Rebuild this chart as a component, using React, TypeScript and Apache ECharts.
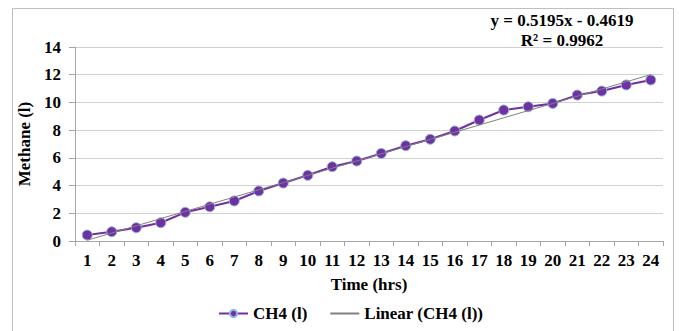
import React, { useEffect, useRef } from "react";
import * as echarts from "echarts";

const hours = ["1","2","3","4","5","6","7","8","9","10","11","12","13","14","15","16","17","18","19","20","21","22","23","24"];
const ch4 = [0.43, 0.67, 0.96, 1.32, 2.07, 2.47, 2.89, 3.61, 4.18, 4.74, 5.36, 5.77, 6.32, 6.88, 7.34, 7.94, 8.73, 9.45, 9.69, 9.93, 10.53, 10.82, 11.26, 11.62];
const trendSlope = 0.5195;
const trendIntercept = -0.4619;
const equationText = "y = 0.5195x - 0.4619";
const r2Text = "R² = 0.9962";
const yTicks = { min: 0, max: 14, interval: 2 };

const FONT = "Liberation Serif";
const FS = 17;

export default function App() {
  const ref = useRef<HTMLDivElement>(null);
  useEffect(() => {
    if (!ref.current) return;
    const chart = echarts.init(ref.current, undefined, { renderer: "svg" });
    const trend = hours.map((h) => +(trendSlope * Number(h) + trendIntercept).toFixed(4));
    const txt = { fontFamily: FONT, fontSize: FS, fontWeight: "bold", color: "#000" };
    chart.setOption({
      animation: false,
      backgroundColor: "#ffffff",
      textStyle: { fontFamily: FONT },
      grid: { left: 75, right: 16, top: 47, bottom: 90 },
      legend: {
        top: 305,
        left: 218,
        padding: 0,
        itemWidth: 29,
        itemHeight: 9,
        itemGap: 22,
        itemTextGap: 3,
        textStyle: { ...txt },
        data: [
          { name: "CH4 (l)" },
          { name: "Linear (CH4 (l))", itemStyle: { opacity: 0 } },
        ],
      },
      xAxis: {
        type: "category",
        data: hours,
        boundaryGap: true,
        name: "Time (hrs)",
        nameLocation: "middle",
        nameGap: 35,
        nameTextStyle: { ...txt },
        axisLine: { show: true, lineStyle: { color: "#A6A6A6" } },
        axisTick: { show: true, length: 5, alignWithLabel: false, lineStyle: { color: "#A6A6A6" } },
        axisLabel: { ...txt, margin: 11, interval: 0 },
        splitLine: { show: false },
      },
      yAxis: {
        type: "value",
        min: yTicks.min,
        max: yTicks.max,
        interval: yTicks.interval,
        name: "Methane (l)",
        nameLocation: "middle",
        nameGap: 37,
        nameTextStyle: { ...txt },
        axisLine: { show: true, lineStyle: { color: "#A6A6A6" } },
        axisTick: { show: true, length: 6, inside: false, lineStyle: { color: "#A6A6A6" } },
        axisLabel: { ...txt, margin: 14 },
        splitLine: { show: true, lineStyle: { color: "#D0D0D0", width: 1 } },
      },
      series: [
        {
          name: "CH4 (l)",
          type: "line",
          data: ch4,
          symbol: "circle",
          symbolSize: 10,
          lineStyle: { color: "#7030A0", width: 2 },
          itemStyle: { color: "#7030A0", borderColor: "#8EB4E3", borderWidth: 1 },
          z: 2,
        },
        {
          name: "Linear (CH4 (l))",
          type: "line",
          data: trend,
          symbol: "none",
          lineStyle: { color: "#808080", width: 1 },
          itemStyle: { color: "#808080" },
          z: 3,
        },
      ],
      graphic: [
        {
          type: "rect",
          shape: { x: 12.5, y: 8.5, width: 661, height: 340 },
          style: { fill: "none", stroke: "#BFBFBF", lineWidth: 1 },
          silent: true,
        },
        {
          type: "text",
          x: 562,
          y: 20,
          style: { text: equationText, textAlign: "center", textVerticalAlign: "middle", fontFamily: FONT, fontSize: FS, fontWeight: "bold", fill: "#000" },
        },
        {
          type: "text",
          x: 562,
          y: 40,
          style: { text: r2Text, textAlign: "center", textVerticalAlign: "middle", fontFamily: FONT, fontSize: FS, fontWeight: "bold", fill: "#000" },
        },
      ],
    });
    return () => chart.dispose();
  }, []);
  return <div ref={ref} style={{ position: "fixed", left: 0, top: 0, width: 679, height: 331 }} />;
}
